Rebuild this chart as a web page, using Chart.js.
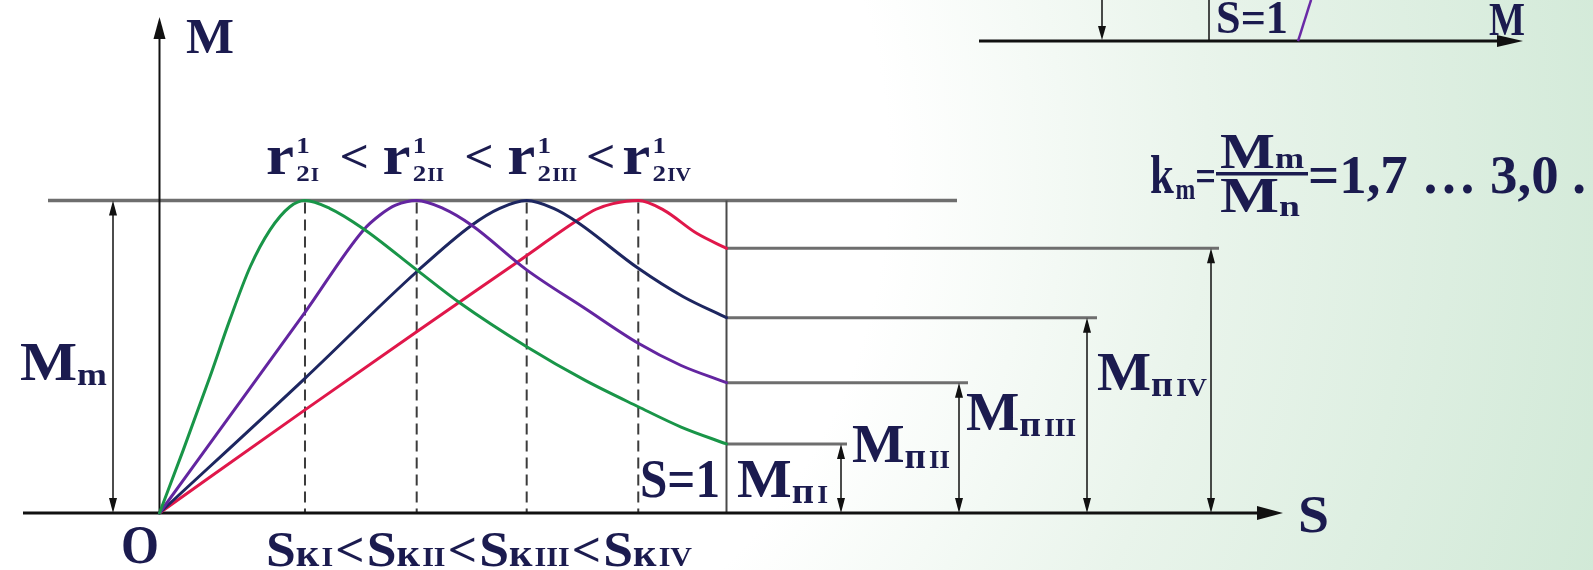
<!DOCTYPE html>
<html>
<head>
<meta charset="utf-8">
<script src="https://cdn.jsdelivr.net/npm/chart.js@4.4.0/dist/chart.umd.min.js"></script>
<style>
  html, body { margin: 0; padding: 0; overflow: hidden; background: #fff; }
  #wrap { width: 1593px; height: 570px; }
</style>
</head>
<body>
<div id="wrap"><canvas id="slipChart" width="1593" height="570"></canvas></div>
<script>
// Torque-slip curves M(S) for four rotor resistances r'2I < r'2II < r'2III < r'2IV.
// Slip S: 0 at the origin, 1 at standstill. Torque is given as a fraction of Mm.

const slipGreen   = [0, 0.042, 0.089, 0.124, 0.160, 0.195, 0.230, 0.2566, 0.30, 0.36, 0.4536, 0.53, 0.6476, 0.75, 0.8444, 0.92, 1];
const torqueGreen = [0, 0.202, 0.436, 0.618, 0.788, 0.906, 0.980, 1, 0.975, 0.909, 0.778, 0.672, 0.532, 0.425, 0.340, 0.275, 0.221];

const slipPurple   = [0, 0.13, 0.2566, 0.3595, 0.39, 0.4165, 0.4536, 0.50, 0.5506, 0.6476, 0.75, 0.8444, 0.92, 1];
const torquePurple = [0, 0.325, 0.642, 0.905, 0.955, 0.985, 1, 0.975, 0.921, 0.778, 0.655, 0.543, 0.472, 0.417];

const slipNavy   = [0, 0.2566, 0.4536, 0.5506, 0.60, 0.6476, 0.695, 0.7358, 0.8444, 0.9238, 1];
const torqueNavy = [0, 0.431, 0.772, 0.921, 0.975, 1, 0.975, 0.932, 0.783, 0.692, 0.625];

const slipRed   = [0, 0.2566, 0.4536, 0.6328, 0.7358, 0.77, 0.80, 0.8444, 0.8886, 0.9474, 1];
const torqueRed = [0, 0.330, 0.580, 0.805, 0.935, 0.972, 0.990, 1, 0.970, 0.895, 0.847];

// critical slips Sк and starting torques Mп (at S = 1)
const criticalSlip = [0.2566, 0.4536, 0.6476, 0.8444];
const startTorque  = [0.221, 0.417, 0.625, 0.847];
const maxTorque = 1;
const romanIdx = ['I', 'II', 'III', 'IV'];

// piece of the neighbouring diagram (top right)
const fragmentSlip   = [2.008, 2.031];
const fragmentTorque = [1.510, 1.642];

// visible window of the scales
const X_MIN = -0.2813, X_MAX = 2.5282;
const Y_MIN = -0.1824, Y_MAX = 1.6416;

const FONT = "'Liberation Serif', 'Times New Roman', serif";
const INK = '#1b1b4f';

function pts(xs, ys) {
    return xs.map((x, i) => ({ x: x, y: ys[i] }));
}

function curve(xs, ys, color) {
    return {
        data: pts(xs, ys),
        borderColor: color,
        borderWidth: 3,
        borderCapStyle: 'round',
        borderJoinStyle: 'round',
        cubicInterpolationMode: 'monotone',
        pointRadius: 0,
        fill: false
    };
}

// arrow head with the tip at (x, y), pointing along (dx, dy)
function head(ctx, x, y, dx, dy, len, half) {
    ctx.beginPath();
    ctx.moveTo(x, y);
    ctx.lineTo(x - dx * len - dy * half, y - dy * len + dx * half);
    ctx.lineTo(x - dx * len + dy * half, y - dy * len - dx * half);
    ctx.closePath();
    ctx.fill();
}

function line(ctx, x1, y1, x2, y2) {
    ctx.beginPath();
    ctx.moveTo(x1, y1);
    ctx.lineTo(x2, y2);
    ctx.stroke();
}

function dimArrow(ctx, x, yTop, yBottom) {
    ctx.strokeStyle = '#111';
    ctx.fillStyle = '#111';
    ctx.lineWidth = 1.5;
    line(ctx, x, yTop + 4, x, yBottom - 4);
    head(ctx, x, yTop, 0, -1, 15, 4);
    head(ctx, x, yBottom, 0, 1, 15, 4);
}

// text runs: [text, size, dy, keep] or [gapPx]; fitted to the given width
function writeRuns(ctx, x, y, width, list) {
    let natural = 0;
    list.forEach(([t, size, dy, keep]) => {
        if (typeof t === 'number') { natural += t; return; }
        ctx.font = 'bold ' + size + 'px ' + FONT;
        if (!keep) natural += ctx.measureText(t).width;
    });
    const k = width ? width / natural : 1;
    ctx.save();
    ctx.translate(x, y);
    ctx.scale(k, 1);
    ctx.fillStyle = INK;
    ctx.textBaseline = 'alphabetic';
    let cx = 0;
    list.forEach(([t, size, dy, keep]) => {
        if (typeof t === 'number') { cx += t; return; }
        ctx.font = 'bold ' + size + 'px ' + FONT;
        ctx.fillText(t, cx, dy || 0);
        if (!keep) cx += ctx.measureText(t).width;
    });
    ctx.restore();
}

const backdrop = {
    id: 'backdrop',
    beforeDraw(chart) {
        const ctx = chart.ctx;
        const g = ctx.createRadialGradient(330, 170, 0, 330, 170, 1330);
        g.addColorStop(0, '#ffffff');
        g.addColorStop(0.42, '#ffffff');
        g.addColorStop(0.66, '#e9f4eb');
        g.addColorStop(1, '#d1e9d7');
        ctx.save();
        ctx.fillStyle = g;
        ctx.fillRect(0, 0, chart.width, chart.height);
        ctx.restore();
    }
};

const guides = {
    id: 'guides',
    beforeDatasetsDraw(chart) {
        const ctx = chart.ctx;
        const px = v => chart.scales.x.getPixelForValue(v);
        const py = v => chart.scales.y.getPixelForValue(v);
        const y0 = py(0), yM = py(maxTorque), xS1 = px(1);
        const arrowX = [841, 959, 1087, 1211];
        const lineEnd = [847, 968, 1097, 1219];
        ctx.save();

        // Mm level
        ctx.strokeStyle = '#6e6e6e';
        ctx.lineWidth = 3.5;
        line(ctx, 48, yM, 957, yM);

        // starting torque levels
        ctx.lineWidth = 3;
        startTorque.forEach((m, i) => line(ctx, xS1, py(m), lineEnd[i], py(m)));

        // S = 1
        ctx.strokeStyle = '#4a4a4a';
        ctx.lineWidth = 2;
        line(ctx, xS1, yM, xS1, y0);

        // critical slips
        ctx.strokeStyle = '#3c3c3c';
        ctx.lineWidth = 2;
        ctx.setLineDash([11, 6]);
        criticalSlip.forEach(s => line(ctx, px(s), yM + 2, px(s), y0));
        ctx.setLineDash([]);

        // axes
        ctx.strokeStyle = '#111';
        ctx.fillStyle = '#111';
        ctx.lineWidth = 3;
        line(ctx, 23, y0, 1260, y0);
        head(ctx, 1283, y0, 1, 0, 26, 7);
        ctx.lineWidth = 2;
        line(ctx, px(0), y0, px(0), 36);
        head(ctx, px(0), 17, 0, -1, 22, 6);

        // dimension arrows
        dimArrow(ctx, 113, yM, y0);
        startTorque.forEach((m, i) => dimArrow(ctx, arrowX[i], py(m), y0));

        // axis of the neighbouring diagram
        ctx.strokeStyle = '#111';
        ctx.fillStyle = '#111';
        ctx.lineWidth = 3;
        line(ctx, 979, 41, 1500, 41);
        head(ctx, 1523, 41, 1, 0, 26, 6);
        ctx.lineWidth = 1.5;
        line(ctx, 1209, 0, 1209, 41);
        line(ctx, 1102, 0, 1102, 28);
        head(ctx, 1102, 40, 0, 1, 14, 4);

        ctx.restore();
    },
    afterDatasetsDraw(chart) {
        const ctx = chart.ctx;
        ctx.save();

        writeRuns(ctx, 186, 53, 48, [['M', 50]]);
        writeRuns(ctx, 121, 563, 38, [['O', 54]]);
        writeRuns(ctx, 1298, 532, 31, [['S', 52]]);
        writeRuns(ctx, 20, 380, 87, [['M', 54], ['m', 32, 5]]);
        writeRuns(ctx, 640, 497, 80, [['S=1', 54]]);

        // r'2 ordering
        const rList = [];
        romanIdx.forEach((rn, i) => {
            rList.push(['r', 56], [2], ['1', 24, -21, true], ['2', 24, 7], [1], [rn, 19, 7]);
            if (i < 3) rList.push([i < 2 ? 18 : 8], ['<', 46, -2], [i < 2 ? 12 : 6]);
        });
        writeRuns(ctx, 266, 174, 425, rList);

        // Sк ordering
        const sList = [];
        romanIdx.forEach((rn, i) => {
            sList.push(['S', 50], ['к', 38], [2], [rn, 28]);
            if (i < 3) sList.push([2], ['<', 48], [2]);
        });
        writeRuns(ctx, 266, 566, 426, sList);

        // starting torque labels
        const mpPos = [[737, 497, 91], [852, 462, 98], [966, 430, 110], [1097, 390, 110]];
        romanIdx.forEach((rn, i) => {
            const [x, y, w] = mpPos[i];
            writeRuns(ctx, x, y, w, [['M', 54], ['п', 36, 6], [3], [rn, 26, 6]]);
        });

        // km = Mm / Mn = 1,7 ... 3,0 .
        writeRuns(ctx, 1150, 193, 66, [['k', 54], [2], ['m', 30, 6], ['=', 46, -2]]);
        ctx.fillStyle = INK;
        ctx.fillRect(1216, 172, 92, 3.5);
        writeRuns(ctx, 1220, 168, 84, [['M', 50], ['m', 30]]);
        writeRuns(ctx, 1220, 212, 80, [['M', 50], ['n', 30, 4]]);
        writeRuns(ctx, 1308, 193, 278, [['=1,7 … 3,0 .', 54]]);

        // labels of the neighbouring diagram
        writeRuns(ctx, 1216, 33, 72, [['S=1', 46]]);
        writeRuns(ctx, 1489, 35, 36, [['M', 46]]);

        ctx.restore();
    }
};

const chart = new Chart(document.getElementById('slipChart').getContext('2d'), {
    type: 'line',
    data: {
        datasets: [
            curve(slipGreen, torqueGreen, '#199548'),
            curve(slipPurple, torquePurple, '#6325a0'),
            curve(slipNavy, torqueNavy, '#1d2660'),
            curve(slipRed, torqueRed, '#e0174a'),
            {
                data: pts(fragmentSlip, fragmentTorque),
                borderColor: '#6a2aa6',
                borderWidth: 2.5,
                pointRadius: 0,
                tension: 0
            }
        ]
    },
    options: {
        responsive: false,
        animation: false,
        events: [],
        layout: { padding: 0 },
        plugins: {
            legend: { display: false },
            tooltip: { enabled: false }
        },
        scales: {
            x: { type: 'linear', min: X_MIN, max: X_MAX, display: false },
            y: { type: 'linear', min: Y_MIN, max: Y_MAX, display: false }
        }
    },
    plugins: [backdrop, guides]
});
</script>
</body>
</html>
